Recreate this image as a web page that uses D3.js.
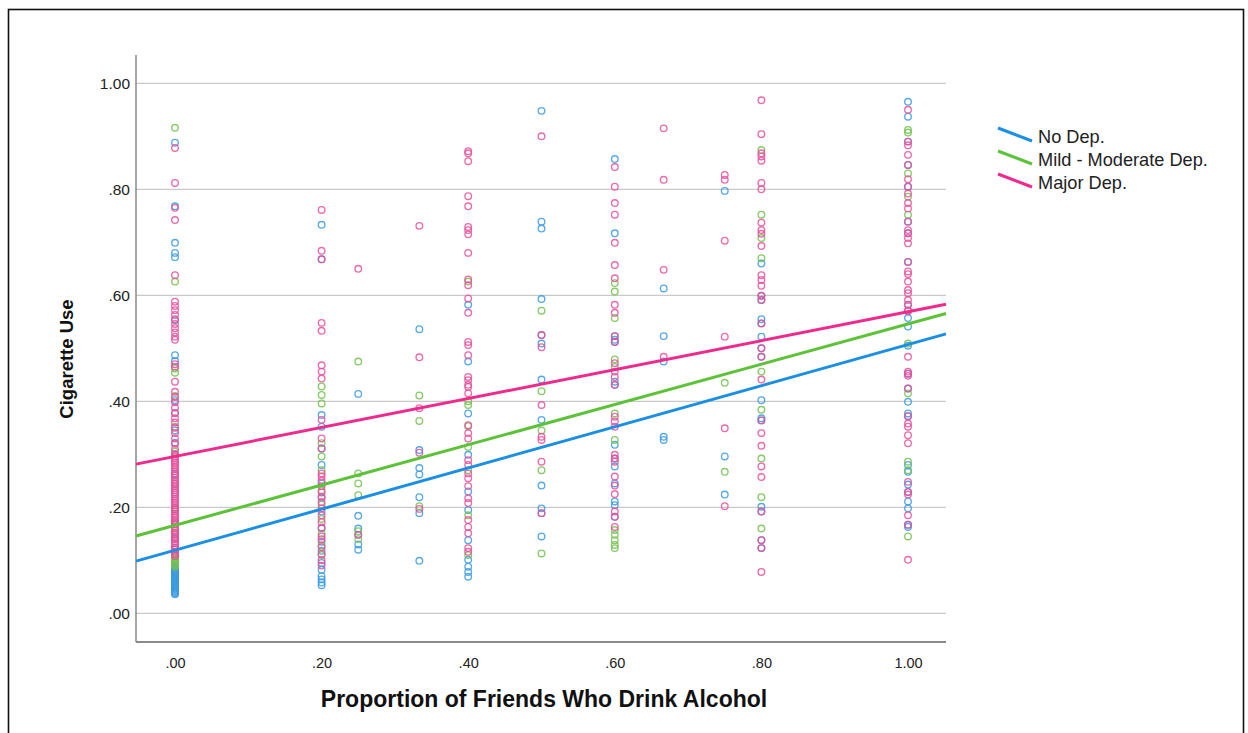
<!DOCTYPE html>
<html>
<head>
<meta charset="utf-8">
<script src="https://cdn.jsdelivr.net/npm/d3@7"></script>
<style>
  html, body { margin: 0; padding: 0; background: #fff; }
  svg { display: block; }
  text { font-family: "Liberation Sans", Arial, sans-serif; }
</style>
</head>
<body>
<svg id="chart" width="1248" height="733"></svg>
<script>
// Proportion of friends who drink (x levels present in the sample)
const xLevels = [0, 0.2, 0.25, 1/3, 0.4, 0.5, 0.6, 2/3, 0.75, 0.8, 1];

// Cigarette use by depression group, one inner array per x level
const noDepY = [
  [0.888, 0.768, 0.699, 0.680, 0.672, 0.553, 0.487, 0.476, 0.402, 0.378, 0.345, 0.322, 0.300, 0.262, 0.228, 0.196, 0.168, 0.142, 0.121, 0.098, 0.090, 0.088, 0.085, 0.082, 0.080, 0.078, 0.076, 0.074, 0.072, 0.070, 0.068, 0.066, 0.064, 0.062, 0.060, 0.058, 0.056, 0.054, 0.052, 0.050, 0.048, 0.046, 0.044, 0.042, 0.040, 0.038, 0.036],
  [0.733, 0.668, 0.374, 0.352, 0.311, 0.280, 0.245, 0.218, 0.192, 0.160, 0.135, 0.118, 0.095, 0.082, 0.070, 0.064, 0.058, 0.053],
  [0.414, 0.184, 0.160, 0.148, 0.130, 0.120],
  [0.536, 0.308, 0.274, 0.262, 0.219, 0.189, 0.099],
  [0.582, 0.475, 0.377, 0.299, 0.230, 0.195, 0.138, 0.101, 0.088, 0.078, 0.069],
  [0.948, 0.739, 0.726, 0.593, 0.525, 0.509, 0.441, 0.365, 0.241, 0.198, 0.189, 0.145],
  [0.857, 0.717, 0.523, 0.516, 0.512, 0.437, 0.431, 0.318, 0.292, 0.277, 0.245, 0.211, 0.204, 0.182],
  [0.613, 0.523, 0.475, 0.333, 0.327],
  [0.797, 0.296, 0.224],
  [0.660, 0.599, 0.591, 0.555, 0.547, 0.522, 0.500, 0.484, 0.402, 0.368, 0.364, 0.201, 0.192, 0.138, 0.123],
  [0.965, 0.937, 0.890, 0.846, 0.805, 0.739, 0.717, 0.663, 0.582, 0.557, 0.541, 0.505, 0.452, 0.424, 0.399, 0.377, 0.372, 0.280, 0.267, 0.243, 0.229, 0.211, 0.198, 0.167, 0.163]
];
const mildDepY = [
  [0.916, 0.626, 0.462, 0.454, 0.410, 0.352, 0.305, 0.245, 0.198, 0.172, 0.150, 0.112, 0.109, 0.106, 0.103, 0.100, 0.097, 0.094, 0.091, 0.088],
  [0.428, 0.412, 0.396, 0.321, 0.296, 0.270, 0.232, 0.205, 0.178, 0.150, 0.128, 0.110],
  [0.475, 0.264, 0.245, 0.223, 0.155, 0.140],
  [0.411, 0.363, 0.202],
  [0.626, 0.400, 0.393, 0.353, 0.314, 0.270, 0.185, 0.110],
  [0.571, 0.419, 0.345, 0.270, 0.113],
  [0.623, 0.607, 0.557, 0.479, 0.465, 0.377, 0.327, 0.157, 0.148, 0.138, 0.129, 0.123],
  [],
  [0.435, 0.267],
  [0.874, 0.752, 0.708, 0.670, 0.456, 0.384, 0.292, 0.219, 0.160],
  [0.912, 0.907, 0.830, 0.786, 0.752, 0.509, 0.415, 0.286, 0.270, 0.145]
];
const majorDepY = [
  [0.878, 0.812, 0.765, 0.742, 0.638, 0.588, 0.580, 0.572, 0.563, 0.555, 0.546, 0.538, 0.530, 0.522, 0.516, 0.470, 0.465, 0.437, 0.418, 0.408, 0.398, 0.388, 0.378, 0.368, 0.360, 0.350, 0.340, 0.330, 0.320, 0.310, 0.300,
   0.296, 0.292, 0.288, 0.284, 0.280, 0.276, 0.272, 0.268, 0.264, 0.260, 0.256, 0.252, 0.248, 0.244, 0.240, 0.236, 0.232, 0.228, 0.224, 0.220, 0.216, 0.212, 0.208, 0.204, 0.200, 0.196, 0.192, 0.188, 0.184, 0.180, 0.176, 0.172, 0.168, 0.164, 0.160, 0.156, 0.152, 0.148, 0.144, 0.140, 0.136, 0.132, 0.128, 0.124, 0.120, 0.116, 0.112, 0.108],
  [0.761, 0.684, 0.668, 0.548, 0.533, 0.468, 0.456, 0.443, 0.365, 0.330, 0.311, 0.264, 0.258, 0.250, 0.240, 0.228, 0.220, 0.210, 0.198, 0.185, 0.172, 0.162, 0.145, 0.140, 0.125, 0.112, 0.100, 0.090],
  [0.650, 0.148],
  [0.731, 0.483, 0.387, 0.303, 0.197],
  [0.872, 0.868, 0.853, 0.787, 0.768, 0.729, 0.723, 0.715, 0.680, 0.630, 0.619, 0.594, 0.567, 0.512, 0.506, 0.487, 0.446, 0.440, 0.431, 0.427, 0.415, 0.355, 0.340, 0.330, 0.289, 0.280, 0.264, 0.255, 0.240, 0.217, 0.208, 0.176, 0.163, 0.151, 0.123, 0.116],
  [0.900, 0.525, 0.502, 0.393, 0.333, 0.327, 0.286, 0.189],
  [0.842, 0.805, 0.774, 0.752, 0.699, 0.657, 0.632, 0.582, 0.567, 0.523, 0.512, 0.472, 0.456, 0.446, 0.431, 0.371, 0.362, 0.352, 0.299, 0.292, 0.286, 0.258, 0.241, 0.225, 0.192, 0.182, 0.163],
  [0.915, 0.818, 0.648, 0.484],
  [0.827, 0.818, 0.703, 0.522, 0.349, 0.202],
  [0.968, 0.904, 0.868, 0.862, 0.854, 0.812, 0.800, 0.737, 0.723, 0.716, 0.693, 0.638, 0.629, 0.618, 0.599, 0.591, 0.547, 0.500, 0.484, 0.441, 0.364, 0.340, 0.316, 0.277, 0.257, 0.192, 0.138, 0.123, 0.078],
  [0.950, 0.890, 0.883, 0.865, 0.846, 0.819, 0.805, 0.792, 0.774, 0.764, 0.739, 0.723, 0.717, 0.708, 0.698, 0.663, 0.645, 0.640, 0.626, 0.610, 0.604, 0.591, 0.582, 0.572, 0.570, 0.484, 0.456, 0.452, 0.448, 0.424, 0.372, 0.358, 0.352, 0.336, 0.321, 0.248, 0.229, 0.224, 0.185, 0.167, 0.101]
];

// Group labels and linear fit lines (intercept, slope) per group
const groupNames = ["No Dep.", "Mild - Moderate Dep.", "Major Dep."];
const fitIntercept = [0.119, 0.166, 0.296];
const fitSlope = [0.388, 0.380, 0.273];

const xTicks = [0, 0.2, 0.4, 0.6, 0.8, 1.0];
const yTicks = [0, 0.2, 0.4, 0.6, 0.8, 1.0];

const lineColors = ["#1a8fe3", "#5cc238", "#f02a8c"];
const markerColors = ["#3a9ae0", "#72c24e", "#e8509c"];

const svg = d3.select("#chart");

// outer frame
svg.append("rect")
  .attr("x", 8.5).attr("y", 9.5)
  .attr("width", 1235).attr("height", 740)
  .attr("fill", "none").attr("stroke", "#111").attr("stroke-width", 1.6);

const plot = { left: 136, right: 946, top: 55, bottom: 642 };

const x = d3.scaleLinear().domain([0, 1]).range([175, 908]);
const y = d3.scaleLinear().domain([0, 1]).range([613.3, 83.3]);

const fmt = v => d3.format(".2f")(v).replace(/^0/, "");

// horizontal grid lines
svg.append("g")
  .selectAll("line")
  .data(yTicks)
  .join("line")
  .attr("x1", plot.left).attr("x2", plot.right)
  .attr("y1", d => y(d)).attr("y2", d => y(d))
  .attr("stroke", "#c9c9c9").attr("stroke-width", 1.3);

// y axis
const yAxis = d3.axisLeft(y).tickValues(yTicks).tickFormat(fmt).tickSize(0).tickPadding(6);
const gy = svg.append("g").attr("transform", `translate(${plot.left},0)`).call(yAxis);
gy.select(".domain").remove();
gy.selectAll("text").attr("font-size", 15.5).attr("fill", "#222")
  .attr("x", -6);
svg.append("line")
  .attr("x1", plot.left).attr("x2", plot.left)
  .attr("y1", plot.top).attr("y2", plot.bottom)
  .attr("stroke", "#8a8a8a").attr("stroke-width", 1.5);

// x axis
const xAxis = d3.axisBottom(x).tickValues(xTicks).tickFormat(fmt).tickSize(0).tickPadding(0);
const gx = svg.append("g").attr("transform", `translate(0,${plot.bottom})`).call(xAxis);
gx.select(".domain").remove();
gx.selectAll("text").attr("font-size", 14.5).attr("fill", "#222").attr("y", 16);
svg.append("line")
  .attr("x1", plot.left).attr("x2", plot.right)
  .attr("y1", plot.bottom).attr("y2", plot.bottom)
  .attr("stroke", "#8a8a8a").attr("stroke-width", 1.8);

// axis titles
svg.append("text")
  .attr("x", 544).attr("y", 707)
  .attr("text-anchor", "middle")
  .attr("font-size", 23).attr("font-weight", "bold").attr("fill", "#111")
  .text("Proportion of Friends Who Drink Alcohol");
svg.append("text")
  .attr("transform", "translate(73,359) rotate(-90)")
  .attr("text-anchor", "middle")
  .attr("font-size", 18.5).attr("font-weight", "bold").attr("fill", "#111")
  .text("Cigarette Use");

// scatter points
const seriesY = [noDepY, mildDepY, majorDepY];
const pts = [];
seriesY.forEach((cols, g) => {
  cols.forEach((vals, i) => vals.forEach(v => pts.push({ g, x: xLevels[i], y: v })));
});
svg.append("g")
  .selectAll("circle")
  .data(pts)
  .join("circle")
  .attr("cx", d => x(d.x))
  .attr("cy", d => y(d.y))
  .attr("r", 3.3)
  .attr("fill", "none")
  .attr("stroke", d => markerColors[d.g])
  .attr("stroke-width", 1.35)
  .attr("stroke-opacity", 0.85);

// fit lines across the full plot width
const xMin = x.invert(plot.left), xMax = x.invert(plot.right);
svg.append("g")
  .selectAll("line")
  .data(groupNames.map((n, i) => i))
  .join("line")
  .attr("x1", x(xMin)).attr("x2", x(xMax))
  .attr("y1", i => y(fitIntercept[i] + fitSlope[i] * xMin))
  .attr("y2", i => y(fitIntercept[i] + fitSlope[i] * xMax))
  .attr("stroke", i => lineColors[i])
  .attr("stroke-width", 3);

// legend
const lg = svg.append("g").attr("transform", "translate(998,128)");
groupNames.forEach((name, i) => {
  const row = lg.append("g").attr("transform", `translate(0,${i * 23})`);
  row.append("line")
    .attr("x1", 0).attr("y1", 0).attr("x2", 34).attr("y2", 13)
    .attr("stroke", lineColors[i]).attr("stroke-width", 3);
  row.append("text")
    .attr("x", 40).attr("y", 15)
    .attr("font-size", 18.2).attr("fill", "#222")
    .text(name);
});
</script>
</body>
</html>
